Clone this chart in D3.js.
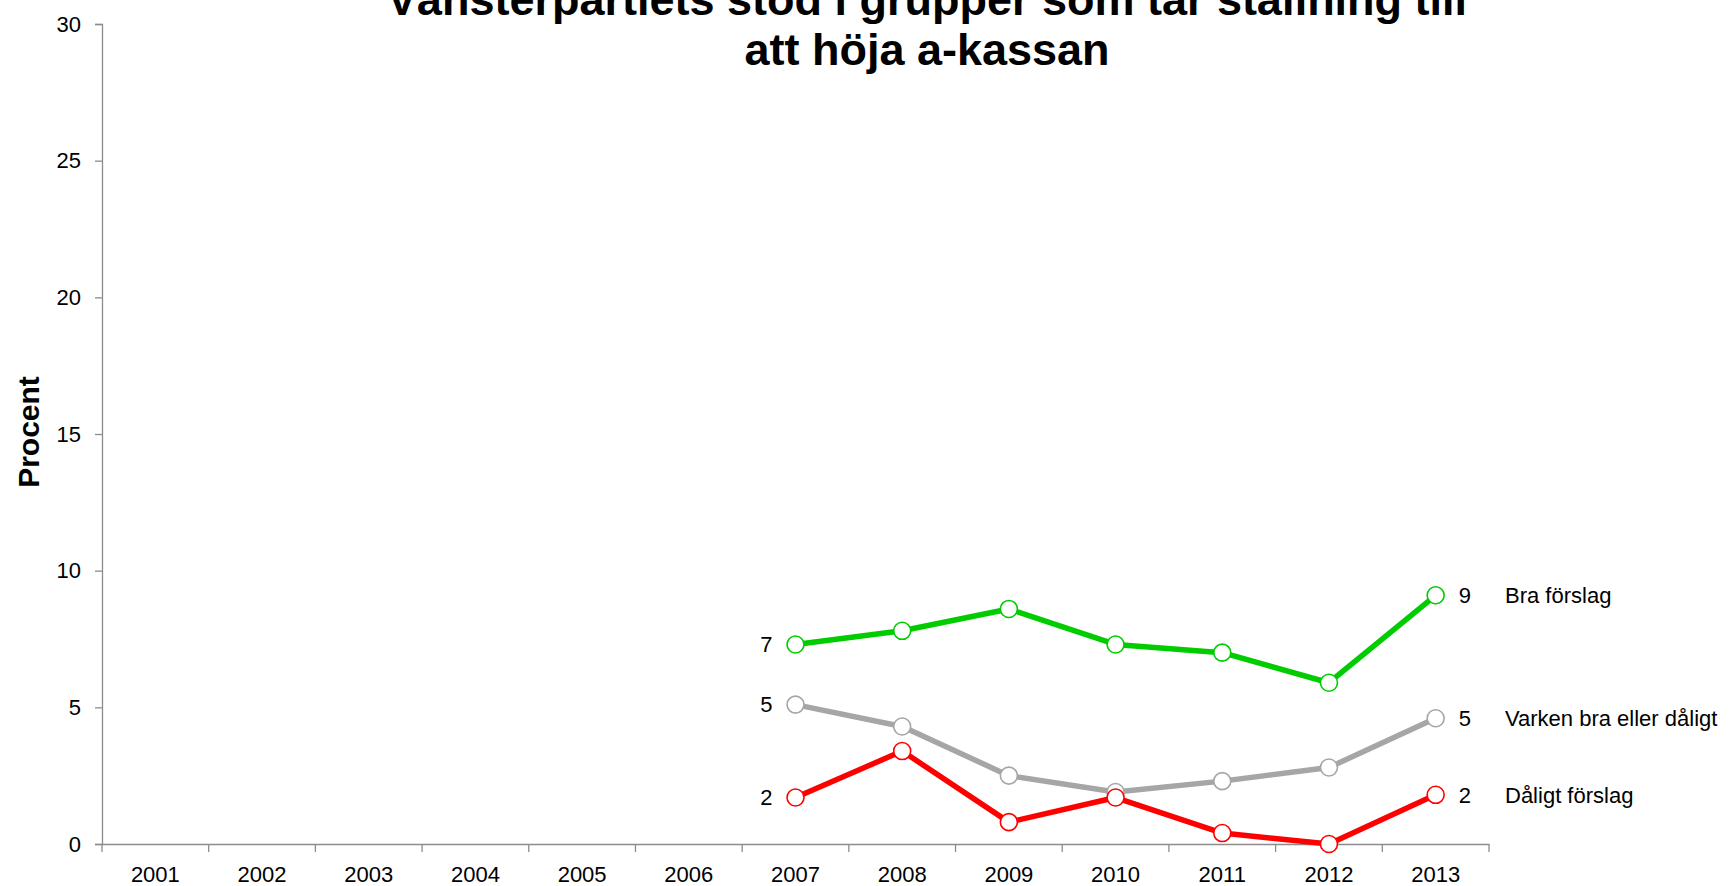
<!DOCTYPE html>
<html lang="sv">
<head>
<meta charset="utf-8">
<title>Vänsterpartiets stöd</title>
<script src="https://d3js.org/d3.v7.min.js"></script>
<style>
  body { margin: 0; background: #fff; }
  svg text { font-family: "Liberation Sans", Arial, sans-serif; fill: #000; }
</style>
</head>
<body>
<script>
// categories and series
var years = ["2001","2002","2003","2004","2005","2006","2007","2008","2009","2010","2011","2012","2013"];
var seriesYears = ["2007","2008","2009","2010","2011","2012","2013"];
var braForslag = [7.3, 7.8, 8.6, 7.3, 7.0, 5.9, 9.1];
var varkenBraEllerDaligt = [5.1, 4.3, 2.5, 1.9, 2.3, 2.8, 4.6];
var daligtForslag = [1.7, 3.4, 0.8, 1.7, 0.4, 0.0, 1.8];
var seriesNames = ["Bra förslag", "Varken bra eller dåligt", "Dåligt förslag"];
var seriesColors = ["#00cc00", "#a6a6a6", "#ff0000"];
var yTicks = [0, 5, 10, 15, 20, 25, 30];
var titleLines = ["Vänsterpartiets stöd i grupper som tar ställning till", "att höja a-kassan"];

var w = 1730, h = 886;
// plot area (avoid the name "top", it is window.top)
var plotLeft = 102, plotRight = 1489, plotTop = 24, plotBottom = 844;

var svg = d3.select("body").append("svg")
    .attr("width", w)
    .attr("height", h);

var x = d3.scaleBand().domain(years).range([plotLeft, plotRight]);
var y = d3.scaleLinear().domain([0, 30]).range([plotBottom, plotTop]);

// y axis
var yAxis = svg.append("g")
    .attr("transform", "translate(" + plotLeft + ",0)")
    .call(d3.axisLeft(y).tickValues(yTicks).tickSize(7).tickPadding(14));
yAxis.selectAll("path, line").attr("stroke", "#8c8c8c").attr("stroke-width", 1.3);
yAxis.selectAll("text").attr("font-size", 22).attr("font-family", "Liberation Sans, Arial, sans-serif");

// x axis, ticks between categories
var xAxis = svg.append("g")
    .attr("transform", "translate(0," + plotBottom + ")")
    .call(d3.axisBottom(x).tickSize(0).tickPadding(22));
xAxis.select(".domain").attr("stroke", "#8c8c8c").attr("stroke-width", 1.3);
xAxis.selectAll("text").attr("font-size", 22).attr("font-family", "Liberation Sans, Arial, sans-serif");
xAxis.selectAll(".sep")
    .data(years)
    .enter().append("line")
    .attr("class", "sep")
    .attr("x1", function(d) { return x(d) + x.bandwidth(); })
    .attr("x2", function(d) { return x(d) + x.bandwidth(); })
    .attr("y1", 0).attr("y2", 8)
    .attr("stroke", "#8c8c8c").attr("stroke-width", 1.3);
xAxis.append("line")
    .attr("x1", plotLeft).attr("x2", plotLeft).attr("y1", 0).attr("y2", 8)
    .attr("stroke", "#8c8c8c").attr("stroke-width", 1.3);

// y label
svg.append("text")
    .attr("transform", "translate(39," + 432 + ") rotate(-90)")
    .attr("text-anchor", "middle")
    .attr("font-size", 30)
    .attr("font-weight", "bold")
    .text("Procent");

// title
svg.selectAll(".title")
    .data(titleLines)
    .enter().append("text")
    .attr("class", "title")
    .attr("x", 927)
    .attr("y", function(d, i) { return 15 + i * 50; })
    .attr("text-anchor", "middle")
    .attr("font-size", 45)
    .attr("font-weight", "bold")
    .text(function(d) { return d; });

var allSeries = [braForslag, varkenBraEllerDaligt, daligtForslag];
var cx = function(d, i) { return x(seriesYears[i]) + x.bandwidth() / 2; };

var line = d3.line()
    .x(function(d, i) { return cx(d, i); })
    .y(function(d) { return y(d); });

allSeries.forEach(function(vals, s) {
  var g = svg.append("g");
  g.append("path")
    .datum(vals)
    .attr("d", line)
    .attr("fill", "none")
    .attr("stroke", seriesColors[s])
    .attr("stroke-width", 5.5)
    .attr("stroke-linejoin", "round");
  g.selectAll("circle")
    .data(vals)
    .enter().append("circle")
    .attr("cx", cx)
    .attr("cy", function(d) { return y(d); })
    .attr("r", 8.5)
    .attr("fill", "#fff")
    .attr("stroke", seriesColors[s])
    .attr("stroke-width", 1.6);

  var first = vals[0], last = vals[vals.length - 1];
  g.append("text")
    .attr("x", cx(first, 0) - 23)
    .attr("y", y(first))
    .attr("dy", "0.35em")
    .attr("text-anchor", "end")
    .attr("font-size", 22)
    .text(Math.round(first));
  g.append("text")
    .attr("x", cx(last, vals.length - 1) + 23)
    .attr("y", y(last))
    .attr("dy", "0.35em")
    .attr("font-size", 22)
    .text(Math.round(last));
  g.append("text")
    .attr("x", 1505)
    .attr("y", y(last))
    .attr("dy", "0.35em")
    .attr("font-size", 22)
    .text(seriesNames[s]);
});
</script>
</body>
</html>
